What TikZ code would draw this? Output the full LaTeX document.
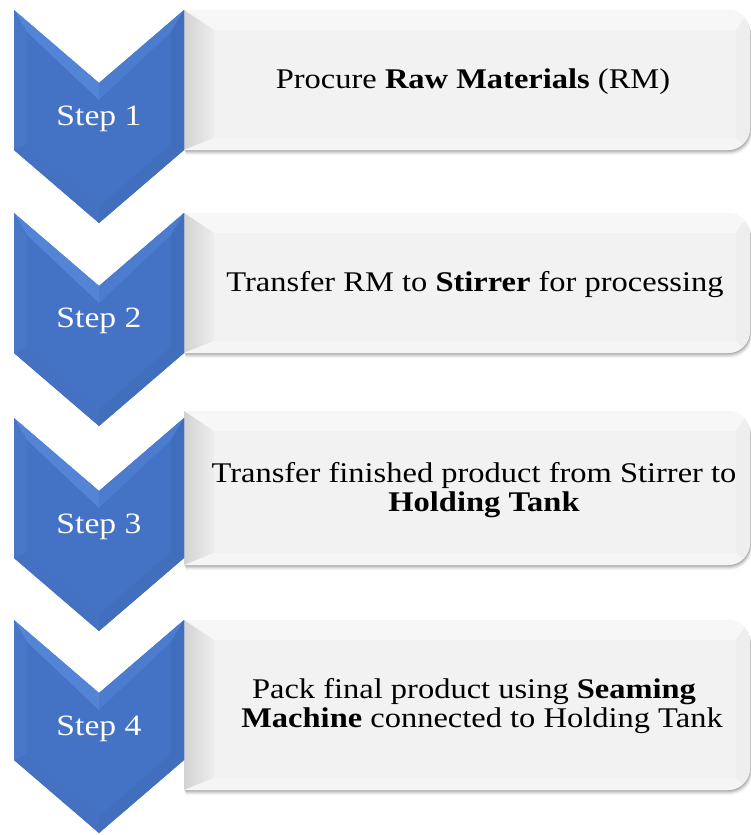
\documentclass[tikz,border=0pt]{standalone}
\usepackage{fontspec}
\newfontfamily\diagfont{Liberation Serif}[FakeStretch=1.14]
\definecolor{chevmain}{HTML}{4472C4}
\definecolor{chevUL}{HTML}{5384D6}
\definecolor{chevUR}{HTML}{4C7CCE}
\definecolor{chevR}{HTML}{416DBD}
\definecolor{chevLR}{HTML}{426EBE}
\definecolor{chevLL}{HTML}{4571C2}
\definecolor{chevL}{HTML}{4877C8}
\definecolor{boxface}{HTML}{F2F2F2}
\definecolor{boxtop}{HTML}{F7F7F7}
\definecolor{boxbot}{HTML}{F5F5F5}
\definecolor{boxright}{HTML}{EEEEEE}
\definecolor{boxleftdark}{HTML}{D2D2D2}
\definecolor{boxleftlight}{HTML}{EEEEEE}
\tikzset{
  steplabel/.style={text=white, font=\diagfont\fontsize{29.5}{34}\selectfont, inner sep=0pt},
  boxtext/.style={text=black, align=center, font=\diagfont\fontsize{28.5}{29.5}\selectfont, inner sep=0pt}
}
\newcommand\boxshape[2]{(184,#1) -- (728,#1) .. controls (740.15,#1) and (750,#1+9.85) .. (750,#1+22) -- (750,#2-22) .. controls (750,#2-9.85) and (740.15,#2) .. (728,#2) -- (184,#2) -- cycle}
\newcommand\drawstepbox[2]{%
  \foreach \d/\o in {5/0.04,4/0.05,3/0.07,2/0.09,1/0.11} {\fill[black,opacity=\o,shift={(\d*0.4,\d)}] \boxshape{#1}{#2};}
  \fill[boxface] \boxshape{#1}{#2};
  \begin{scope}
    \clip \boxshape{#1}{#2};
    \fill[boxtop] (184,#1) -- (750,#1) -- (736,#1+20) -- (214,#1+20) -- cycle;
    \shade[left color=boxleftdark, right color=boxleftlight] (184,#1) -- (214,#1+20) -- (214,#2-12) -- (184,#2) -- cycle;
    \fill[boxbot] (184,#2) -- (214,#2-12) -- (736,#2-12) -- (750,#2) -- cycle;
    \fill[boxright] (750,#1) -- (736,#1+20) -- (736,#2-12) -- (750,#2) -- cycle;
  \end{scope}}
\newcommand\drawchev[1]{%
  \begin{scope}[shift={(0,#1)}]
    \fill[chevmain] (14,0) -- (99,73) -- (184,0) -- (184,140) -- (99,213) -- (14,140) -- cycle;
    \fill[chevUL] (14,0) -- (99,73) -- (99,90) -- (27,22) -- cycle;
    \fill[chevUR] (99,73) -- (184,0) -- (171,22) -- (99,90) -- cycle;
    \fill[chevR] (184,0) -- (184,140) -- (171,134) -- (171,22) -- cycle;
    \fill[chevLR] (184,140) -- (99,213) -- (99,197) -- (171,134) -- cycle;
    \fill[chevLL] (99,213) -- (14,140) -- (27,134) -- (99,197) -- cycle;
    \fill[chevL] (14,140) -- (14,0) -- (27,22) -- (27,134) -- cycle;
  \end{scope}}
\begin{document}
\begin{tikzpicture}[x=1pt,y=-1pt]
  \fill[white] (0,0) rectangle (751,835);
  \useasboundingbox (0,0) rectangle (751,835);
  % boxes
  \drawstepbox{10}{150}
  \drawstepbox{213}{353}
  \drawstepbox{411}{565}
  \drawstepbox{620}{790}
  % chevrons
  \drawchev{10}
  \drawchev{213}
  \drawchev{418}
  \drawchev{620}
  % labels
  \node[steplabel] (l1) at (99,119) {Step 1};
  \node[steplabel] (l2) at (99,321) {Step 2};
  \node[steplabel] (l3) at (99,527) {Step 3};
  \node[steplabel] (l4) at (99,729) {Step 4};
  % texts
  \node[boxtext] (t1) at (473,82) {Procure \textbf{Raw Materials} (RM)};
  \node[boxtext] (t2) at (475,285) {Transfer RM to \textbf{Stirrer} for processing};
  \node[boxtext] (t3) at (484,490) {Transfer finished product from Stirrer to\hspace*{20pt}\\\textbf{Holding Tank}};
  \node[boxtext] (t4) at (482,706) {Pack final product using \textbf{Seaming}\hspace*{16pt}\\\textbf{Machine} connected to Holding Tank};
\end{tikzpicture}
\end{document}
